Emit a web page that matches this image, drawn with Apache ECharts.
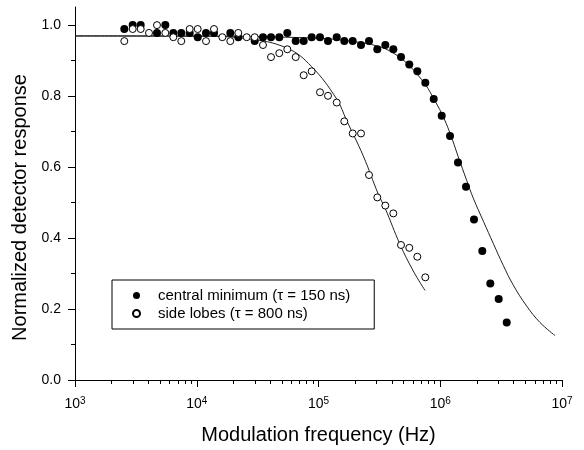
<!DOCTYPE html>
<html>
<head>
<meta charset="utf-8">
<script src="https://cdn.jsdelivr.net/npm/echarts@6/dist/echarts.min.js"></script>
<style>html,body{margin:0;padding:0;background:#fff}#c{width:584px;height:450px}</style>
</head>
<body>
<div id="c"></div>
<script>
// central minimum (filled circles)
const cmFreq = [2541, 2978, 3464, 4715, 5518, 6418, 7466, 8752, 10181, 11912, 13860, 18865, 21946, 29924, 35006, 40730, 47643, 55426, 64966, 75560, 87900, 102870, 119670, 141120, 162900, 190950, 223400, 259900, 304100, 353900, 411700, 476100, 556800, 648000, 753900, 883700, 1028000, 1203000, 1399000, 1627000, 1893000, 2215000, 2577000, 3020000, 3515000];
const cmResp = [0.988, 0.999, 0.999, 0.977, 0.999, 0.977, 0.977, 0.977, 0.965, 0.977, 0.977, 0.977, 0.965, 0.954, 0.965, 0.965, 0.965, 0.977, 0.954, 0.954, 0.965, 0.965, 0.954, 0.965, 0.954, 0.954, 0.943, 0.954, 0.931, 0.943, 0.931, 0.909, 0.888, 0.869, 0.837, 0.791, 0.744, 0.687, 0.612, 0.544, 0.452, 0.363, 0.272, 0.228, 0.162];
// side lobes (open circles)
const slFreq = [2541, 2978, 3464, 4053, 4715, 5518, 6418, 7466, 8752, 10181, 11912, 13860, 16219, 18865, 21946, 25724, 29924, 35006, 40730, 47643, 55426, 64966, 75560, 87900, 102870, 119670, 141120, 162900, 190950, 223400, 259900, 304100, 353900, 411700, 476100, 556800, 648000, 753900];
const slResp = [0.954, 0.988, 0.988, 0.977, 0.999, 0.977, 0.965, 0.954, 0.988, 0.988, 0.954, 0.988, 0.965, 0.954, 0.977, 0.965, 0.965, 0.943, 0.909, 0.920, 0.931, 0.909, 0.858, 0.869, 0.810, 0.800, 0.781, 0.728, 0.694, 0.694, 0.577, 0.514, 0.491, 0.469, 0.380, 0.372, 0.347, 0.289];
// fitted curves
const fitCmFreq = [1000, 10000, 100000, 200000, 304000, 409000, 553000, 760000, 883000, 1028000, 1203000, 1400000, 1648000, 1867000, 2260000, 2730000, 3300000, 3980000, 5130000, 6590000, 8770000];
const fitCmResp = [0.968, 0.968, 0.962, 0.952, 0.940, 0.921, 0.886, 0.830, 0.792, 0.750, 0.695, 0.630, 0.562, 0.512, 0.447, 0.384, 0.322, 0.267, 0.208, 0.162, 0.125];
const fitSlFreq = [1000, 10000, 25700, 55400, 87900, 141000, 170000, 233000, 310000, 352000, 467000, 600000, 750000];
const fitSlResp = [0.969, 0.968, 0.961, 0.934, 0.882, 0.791, 0.731, 0.631, 0.523, 0.484, 0.382, 0.307, 0.252];
// ticks
const yMajor = [0, 0.2, 0.4, 0.6, 0.8, 1.0];
const yMinor = [0.1, 0.3, 0.5, 0.7, 0.9];
const xMajor = [1e3, 1e4, 1e5, 1e6, 1e7];
const xMinor = [];
[1e3, 1e4, 1e5, 1e6].forEach(d => { for (let k = 2; k <= 9; k++) xMinor.push(d * k); });

const FONT = 'Liberation Sans, Arial, Helvetica, sans-serif';
const zip = (a, b) => a.map((v, i) => [v, b[i]]);
const chart = echarts.init(document.getElementById('c'), null, {renderer: 'canvas'});
const axisLineStyle = {color: '#000', width: 1};
chart.setOption({
  animation: false,
  backgroundColor: '#fff',
  textStyle: {fontFamily: FONT, color: '#000'},
  grid: {left: 75, right: 22, top: 7, bottom: 65, containLabel: false},
  xAxis: [{
    type: 'log', logBase: 10, min: 1e3, max: 1e7, position: 'bottom',
    name: 'Modulation frequency (Hz)', nameLocation: 'middle', nameGap: 45,
    nameTextStyle: {fontSize: 20, color: '#000', fontFamily: FONT},
    axisLine: {show: true, lineStyle: axisLineStyle},
    axisTick: {show: true, length: 7, customValues: xMajor, lineStyle: axisLineStyle},
    minorTick: {show: false},
    splitLine: {show: false},
    axisLabel: {
      customValues: xMajor, margin: 16, color: '#000',
      formatter: v => '{b|10}{s|' + Math.round(Math.log10(v)) + '}',
      rich: {
        b: {fontSize: 14, lineHeight: 16, fontFamily: FONT, color: '#000'},
        s: {fontSize: 10, lineHeight: 10, verticalAlign: 'top', fontFamily: FONT, color: '#000'}
      }
    }
  }, {
    type: 'log', logBase: 10, min: 1e3, max: 1e7, position: 'bottom',
    axisLine: {show: false},
    axisTick: {show: true, length: 4, customValues: xMinor, lineStyle: axisLineStyle},
    axisLabel: {show: false},
    splitLine: {show: false}
  }],
  yAxis: [{
    type: 'value', min: 0, max: 1.05, position: 'left',
    name: 'Normalized detector response', nameLocation: 'middle', nameGap: 43, nameRotate: 90,
    nameTextStyle: {fontSize: 20, color: '#000', fontFamily: FONT, padding: [0, 28, 0, 0]},
    axisLine: {show: true, lineStyle: axisLineStyle},
    axisTick: {show: true, length: 7, customValues: yMajor, lineStyle: axisLineStyle},
    axisLabel: {customValues: yMajor, margin: 14, fontSize: 14, color: '#000', formatter: v => v.toFixed(1)},
    splitLine: {show: false}
  }, {
    type: 'value', min: 0, max: 1.05, position: 'left',
    axisLine: {show: false},
    axisTick: {show: true, length: 4, customValues: yMinor, lineStyle: axisLineStyle},
    axisLabel: {show: false},
    splitLine: {show: false}
  }],
  legend: {
    left: 112, top: 280, orient: 'vertical',
    itemWidth: 7, itemHeight: 7, itemGap: 3,
    padding: [8, 24, 8, 20],
    borderColor: '#000', borderWidth: 1, backgroundColor: '#fff',
    textStyle: {fontSize: 15, color: '#000', fontFamily: FONT, padding: [0, 0, 0, 13]},
    data: ['central minimum (\u03c4 = 150 ns)', 'side lobes (\u03c4 = 800 ns)']
  },
  series: [{
    type: 'line', name: 'fit central', data: zip(fitCmFreq, fitCmResp), smooth: 0.4,
    showSymbol: false, symbol: 'none', lineStyle: {color: '#222', width: 1}, z: 2, silent: true
  }, {
    type: 'line', name: 'fit side', data: zip(fitSlFreq, fitSlResp), smooth: 0.4,
    showSymbol: false, symbol: 'none', lineStyle: {color: '#222', width: 1}, z: 2, silent: true
  }, {
    type: 'scatter', name: 'central minimum (\u03c4 = 150 ns)', data: zip(cmFreq, cmResp),
    symbol: 'circle', symbolSize: 8, itemStyle: {color: '#000', opacity: 1}, z: 3
  }, {
    type: 'scatter', name: 'side lobes (\u03c4 = 800 ns)', data: zip(slFreq, slResp),
    symbol: 'circle', symbolSize: 7, itemStyle: {color: '#fff', borderColor: '#000', borderWidth: 1, opacity: 1}, z: 4
  }]
});
</script>
</body>
</html>
